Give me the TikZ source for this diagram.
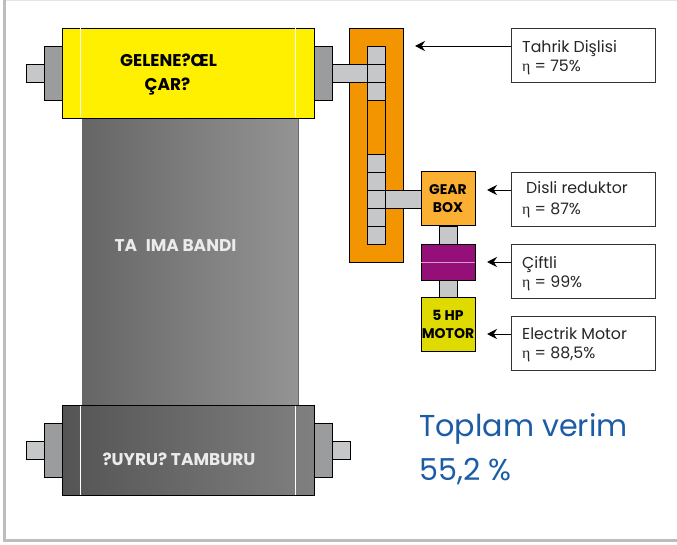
\documentclass[tikz,border=0pt]{standalone}
\usepackage{fontspec}
\setmainfont{Poppins}
\newfontfamily\etafont{Liberation Serif}
\usetikzlibrary{arrows.meta,positioning,calc}
\definecolor{shaftgray}{HTML}{C6C7C9}
\definecolor{hubgray}{HTML}{9B9C9E}
\definecolor{framegray}{HTML}{BDBDBD}
\definecolor{drumyellow}{HTML}{FFF000}
\definecolor{caseorange}{HTML}{F39500}
\definecolor{gearorange}{HTML}{FBB034}
\definecolor{couplepurple}{HTML}{941078}
\definecolor{motoryellow}{HTML}{DFDB00}
\definecolor{totalblue}{HTML}{1C5CA6}
\tikzset{
  part/.style={draw=black,line width=0.8pt},
  shaft/.style={part,fill=shaftgray},
  hub/.style={part,fill=hubgray},
  infobox/.style={draw=black!80,line width=0.9pt,fill=white,minimum width=144pt,minimum height=54pt},
  infotext/.style={anchor=west,inner sep=0pt,align=left,font=\fontsize{15.8}{19}\selectfont,text=black!85},
  pointer/.style={-{Stealth[length=10pt,width=10pt]},line width=0.9pt},
  drumlabel/.style={font=\fontsize{17}{20}\selectfont\bfseries},
  unitlabel/.style={font=\fontsize{14}{17.5}\selectfont\bfseries,align=center,inner sep=0pt},
  totaltext/.style={anchor=base west,inner sep=0pt,text=totalblue,font=\fontsize{30.2}{36}\selectfont}
}
\newcommand{\etaval}[1]{{\etafont\symbol{"03B7}} = #1}
\begin{document}
\begin{tikzpicture}[x=1pt,y=-1pt]
  \useasboundingbox (0,0) rectangle (677,545);
  % frame
  \draw[black!10,line width=1pt] (4,0.5) -- (677,0.5);
  \draw[framegray,line width=2.5pt] (4.5,0) -- (4.5,540.5) -- (677,540.5);

  % band
  \draw[draw=black!60,line width=0.8pt,left color=black!60,right color=black!42] (82.5,118) rectangle (298,405);

  % hubs and stubs of both drums
  \foreach \y in {0,377} {
    \draw[shaft] (26,64+\y) rectangle (44,82+\y);
    \draw[hub] (44,46+\y) rectangle (62,100+\y);
    \draw[hub] (314,46+\y) rectangle (332,100+\y);
  }
  \draw[shaft] (332,441) rectangle (350,459);

  % drums
  \draw[part,fill=drumyellow] (62,28) rectangle (314,118);
  \draw[part,left color=black!67,right color=black!50] (62,405) rectangle (314,495);
  \foreach \x in {80.5,295.5} {
    \draw[white,line width=0.7pt] (\x,28.5) -- (\x,117.5);
    \draw[white,line width=0.7pt] (\x,405.5) -- (\x,494.5);
  }

  % drive case
  \draw[part,fill=caseorange] (349.5,28) rectangle (403,262);
  \draw[part,fill=caseorange] (367,100) rectangle (385,154);
  \foreach \y in {46,64,82,154,172,190,208,226}
    \draw[shaft] (367,\y) rectangle (385,\y+18);
  \draw[shaft] (332,64) rectangle (367,82);
  \draw[shaft] (385,190) rectangle (421,208);

  % shafts below gear box
  \draw[shaft] (439,226) rectangle (457,244);
  \draw[shaft] (439,280) rectangle (457,298);

  % units
  \node[part,fill=gearorange,minimum width=54pt,minimum height=54pt,unitlabel] (gearbox) at (448,198.5) {GEAR\\BOX};
  \node[part,fill=couplepurple,minimum width=54pt,minimum height=36pt] (coupling) at (448,262) {};
  \draw[white!60!couplepurple,line width=0.5pt] (coupling.west) -- (coupling.east);
  \node[part,fill=motoryellow,minimum width=54pt,minimum height=54pt,unitlabel] (motor) at (448,324.5) {5 HP\\MOTOR};

  % drum labels
  \node[drumlabel] (inlabel) at (168.5,60) {GELENE?ŒL};
  \node[drumlabel] (carlabel) at (167.5,87) {ÇAR?};
  \node[drumlabel,white!92!black] (bandlabel) at (175.5,246) {TA\hspace{5pt} IMA BANDI};
  \node[drumlabel,white!92!black] (tamburlabel) at (179,459) {?UYRU? TAMBURU};

  % efficiency boxes
  \node[infobox] (tahrik) at (583,55) {};
  \node[infobox] (disli) at (583,199) {};
  \node[infobox] (ciftli) at (583,271) {};
  \node[infobox] (elmotor) at (583,343) {};
  \node[infotext] (tahriktext) at (522,58) {Tahrik Dişlisi\\\etaval{75\%}};
  \node[infotext] (dislitext) at (522,200) {\hspace{4pt}Disli reduktor\\[2pt]\etaval{87\%}};
  \node[infotext] (ciftlitext) at (522,273.5) {Çiftli\\\etaval{99\%}};
  \node[infotext] (motortext) at (522,344.5) {Electrik Motor\\\etaval{88,5\%}};

  \coordinate (tahrik-end) at (511,46);
  \coordinate (tahrik-tip) at (415,46);
  \coordinate (disli-end) at (511,190);
  \coordinate (disli-tip) at (487,190);
  \coordinate (ciftli-end) at (511,262);
  \coordinate (ciftli-tip) at (487,262);
  \coordinate (motor-end) at (511,334);
  \coordinate (motor-tip) at (487,334);
  \foreach \a in {tahrik,disli,ciftli,motor}
    \draw[pointer] (\a-end) -- (\a-tip);

  % total
  \node[totaltext] (total) at (419,436) {Toplam verim};
  \node[totaltext] (totalval) at (419,480) {55,2 \%};
\end{tikzpicture}
\end{document}
